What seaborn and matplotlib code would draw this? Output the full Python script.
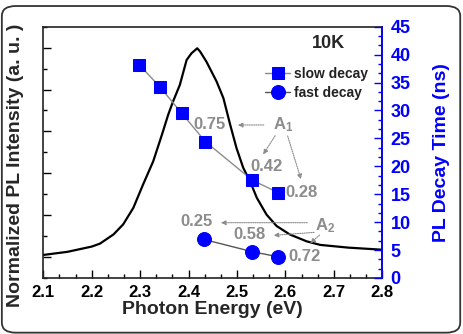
import matplotlib
matplotlib.use("Agg")
import matplotlib.pyplot as plt
from matplotlib.ticker import MultipleLocator, AutoMinorLocator
from matplotlib.patches import FancyBboxPatch
import pandas as pd
import seaborn as sns

# PL spectrum at 10K
energy = [2.10, 2.15, 2.20, 2.217, 2.245, 2.265, 2.286, 2.306, 2.327, 2.345, 2.358,
          2.368, 2.382, 2.396, 2.406, 2.418, 2.424, 2.437, 2.458, 2.472, 2.486, 2.499,
          2.513, 2.527, 2.541, 2.561, 2.582, 2.609, 2.644, 2.672, 2.73, 2.80]
intensity = [0.01, 0.025, 0.05, 0.064, 0.108, 0.156, 0.235, 0.346, 0.457, 0.584, 0.68,
             0.743, 0.822, 0.941, 0.973, 0.997, 0.981, 0.933, 0.838, 0.759, 0.632, 0.521,
             0.426, 0.362, 0.283, 0.203, 0.148, 0.108, 0.075, 0.058, 0.045, 0.035]

# decay times (ns)
slow_energy = [2.298, 2.341, 2.386, 2.435, 2.532, 2.585]
slow_tau = [38.2, 34.2, 29.5, 24.4, 17.5, 15.3]
fast_energy = [2.432, 2.532, 2.585]
fast_tau = [6.9, 4.7, 3.8]

# amplitudes
a1_labels = ["0.75", "0.42", "0.28"]
a2_labels = ["0.25", "0.58", "0.72"]

sns.set_theme(style="ticks")
plt.rcParams["font.family"] = ["Liberation Sans", "DejaVu Sans"]
plt.rcParams["font.weight"] = "bold"
plt.rcParams["mathtext.fontset"] = "custom"
plt.rcParams["mathtext.bf"] = "Liberation Sans:bold"
plt.rcParams["mathtext.rm"] = "Liberation Sans:bold"

BLUE = "#0000ff"
GRAY = "#8c8c8c"

fig = plt.figure(figsize=(4.63, 3.34), dpi=100)
fig.patches.append(FancyBboxPatch((0.004, 0.004), 0.99, 0.978, boxstyle="round,pad=0,rounding_size=0.03",
                                  transform=fig.transFigure, fill=False, ec="#333333", lw=1.3))
ax = fig.add_axes([0.0935, 0.1677, 0.732, 0.7523])

spec = pd.DataFrame({"energy": energy, "intensity": intensity})
sns.lineplot(data=spec, x="energy", y="intensity", ax=ax, color="black", lw=1.6)
ax.set_ylim(-0.1, 1.1)
ax.xaxis.set_major_locator(MultipleLocator(0.1))
ax.xaxis.set_minor_locator(AutoMinorLocator(3))
ax.yaxis.set_major_locator(MultipleLocator(0.2))
ax.yaxis.set_minor_locator(AutoMinorLocator(2))
ax.tick_params(which="both", direction="in", width=1, colors="black")
ax.tick_params(which="major", length=5.5, pad=5)
ax.tick_params(which="minor", length=3)
ax.tick_params(axis="y", labelleft=False)
ax.set_xticks([2.1, 2.2, 2.3, 2.4, 2.5, 2.6, 2.7, 2.8])
ax.set_xticklabels(["2.1", "2.2", "2.3", "2.4", "2.5", "2.6", "2.7", "2.8"],
                   fontsize=12, fontweight="bold")
ax.set_xlim(2.1, 2.8)
ax.set_xlabel("Photon Energy (eV)", fontsize=14, fontweight="bold", labelpad=1)
ax.set_ylabel("Normalized PL Intensity (a. u. )", fontsize=14, fontweight="bold")
ax.yaxis.set_label_coords(-0.058, 0.45)
for s in ax.spines.values():
    s.set_color("#222222")
    s.set_linewidth(1.2)

ax2 = ax.twinx()
slow = pd.DataFrame({"energy": slow_energy, "tau": slow_tau})
fast = pd.DataFrame({"energy": fast_energy, "tau": fast_tau})
sns.lineplot(data=slow, x="energy", y="tau", ax=ax2, color=GRAY, lw=1,
             marker="s", markersize=9, markerfacecolor=BLUE, markeredgecolor=BLUE,
             label="slow decay")
sns.lineplot(data=fast, x="energy", y="tau", ax=ax2, color="#555555", lw=1,
             marker="o", markersize=10, markerfacecolor=BLUE, markeredgecolor=BLUE,
             label="fast decay")
ax2.set_ylim(0, 45)
ax2.yaxis.set_major_locator(MultipleLocator(5))
ax2.yaxis.set_minor_locator(AutoMinorLocator(3))
ax2.tick_params(which="both", direction="in", colors=BLUE, width=1)
ax2.tick_params(which="major", length=5.5, pad=6, labelsize=13)
ax2.tick_params(which="minor", length=3)
for lab in ax2.get_yticklabels():
    lab.set_fontweight("bold")
ax2.set_ylabel("PL Decay Time (ns)", fontsize=14, fontweight="bold", color=BLUE)
ax2.yaxis.set_label_coords(1.15, 0.5)
ax2.spines["right"].set_color(BLUE)
ax2.spines["right"].set_linewidth(1.2)
for k in ["left", "top", "bottom"]:
    ax2.spines[k].set_visible(False)

leg = ax2.legend(loc="upper left", bbox_to_anchor=(0.655, 0.84), frameon=False,
                 fontsize=10, handlelength=1.8, handletextpad=0.3, labelspacing=0.35,
                 borderpad=0, borderaxespad=0)
for t in leg.get_texts():
    t.set_fontweight("bold")
    t.set_color("#222222")

ax2.text(2.689, 42.0, "10K", fontsize=13, fontweight="bold", ha="center", va="center")

# amplitude annotations
tkw = dict(fontsize=12, fontweight="bold", color=GRAY, ha="center", va="center")
akw = dict(arrowstyle="-|>", linestyle=(0, (1, 1)), color=GRAY, lw=0.8, mutation_scale=7)
ax2.text(2.444, 27.5, a1_labels[0], **tkw)
ax2.text(2.561, 20.05, a1_labels[1], **tkw)
ax2.text(2.634, 15.3, a1_labels[2], **tkw)
ax2.text(2.596, 27.4, r"$\mathbf{A_1}$", **tkw)
ax2.annotate("", xy=(2.496, 27.4), xytext=(2.561, 27.4), arrowprops=akw)
ax2.annotate("", xy=(2.551, 21.7), xytext=(2.582, 25.9), arrowprops=akw)
ax2.annotate("", xy=(2.634, 17.2), xytext=(2.603, 25.9), arrowprops=akw)

ax2.text(2.417, 10.1, a2_labels[0], **tkw)
ax2.text(2.525, 7.7, a2_labels[1], **tkw)
ax2.text(2.640, 3.9, a2_labels[2], **tkw)
ax2.text(2.682, 9.4, r"$\mathbf{A_2}$", **tkw)
ax2.annotate("", xy=(2.461, 9.9), xytext=(2.651, 9.9), arrowprops=akw)
ax2.annotate("", xy=(2.57, 7.6), xytext=(2.665, 8.2), arrowprops=akw)
ax2.annotate("", xy=(2.647, 5.9), xytext=(2.675, 8.0), arrowprops=akw)

ax2.set_xlim(2.1, 2.8)

fig.savefig("out.png", dpi=100)
